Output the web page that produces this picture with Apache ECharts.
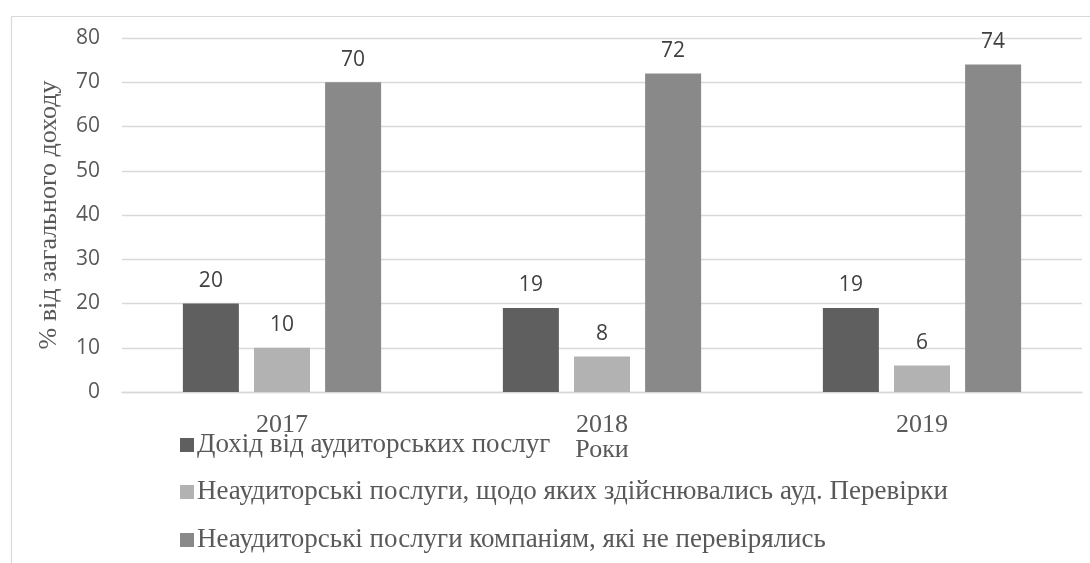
<!DOCTYPE html>
<html>
<head>
<meta charset="utf-8">
<script src="https://cdn.jsdelivr.net/npm/echarts@6/dist/echarts.min.js"></script>
<style>
html,body{margin:0;padding:0;background:#fff;}
#chart{width:1090px;height:563px;}
</style>
</head>
<body>
<div id="chart"></div>
<script>
var categories = ['2017', '2018', '2019'];
var seriesNames = [
  'Дохід від аудиторських послуг',
  'Неаудиторські послуги, щодо яких здійснювались ауд. Перевірки',
  'Неаудиторські послуги компаніям, які не перевірялись'
];
var auditIncome = [20, 19, 19];
var nonAuditAudited = [10, 8, 6];
var nonAuditNotAudited = [70, 72, 74];
var yTicks = [0, 10, 20, 30, 40, 50, 60, 70, 80];
var xAxisTitle = 'Роки';
var yAxisTitle = '% від загального доходу';

var colors = ['#5f5f5f', '#b2b2b2', '#898989'];
var values = [auditIncome, nonAuditAudited, nonAuditNotAudited];
var sans = '"Open Sans", sans-serif';
var serif = '"Liberation Serif", "Times New Roman", serif';
var legendTops = [425, 472, 520];

var chart = echarts.init(document.getElementById('chart'), null, {renderer: 'canvas'});
var option = {
  animation: false,
  backgroundColor: '#ffffff',
  color: colors,
  graphic: [{
    type: 'rect',
    left: 9, top: 14,
    shape: {width: 1100, height: 600},
    style: {fill: 'none', stroke: '#d9d9d9', lineWidth: 1.2},
    silent: true, z: -1
  }],
  grid: {left: 122, right: 8, top: 38, bottom: 171, containLabel: false},
  legend: seriesNames.map(function (n, i) {
    return {
      orient: 'horizontal',
      left: 175,
      top: legendTops[i],
      itemWidth: 14,
      itemHeight: 14,
      icon: 'rect',
      selectedMode: false,
      textStyle: {fontFamily: serif, fontSize: 27, color: '#595959', lineHeight: 30, padding: [0, 0, 0, -2]},
      data: [n]
    };
  }),
  xAxis: {
    type: 'category',
    data: categories,
    name: xAxisTitle,
    nameLocation: 'middle',
    nameGap: 45,
    nameMoveOverlap: false,
    nameTextStyle: {fontFamily: serif, fontSize: 26, color: '#595959'},
    axisLine: {show: true, lineStyle: {color: '#d9d9d9', width: 1.3}},
    axisTick: {show: false},
    axisLabel: {fontFamily: serif, fontSize: 26, color: '#595959', margin: 20}
  },
  yAxis: {
    type: 'value',
    min: yTicks[0],
    max: yTicks[yTicks.length - 1],
    interval: yTicks[1] - yTicks[0],
    name: yAxisTitle,
    nameLocation: 'middle',
    nameRotate: 90,
    nameGap: 60,
    nameMoveOverlap: false,
    nameTextStyle: {fontFamily: serif, fontSize: 26, color: '#595959'},
    axisLine: {show: false},
    axisTick: {show: false},
    splitLine: {lineStyle: {color: '#d9d9d9', width: 1.3}},
    axisLabel: {fontFamily: sans, fontSize: 21, color: '#595959', margin: 22}
  },
  series: seriesNames.map(function (n, i) {
    return {
      name: n,
      type: 'bar',
      data: values[i],
      barWidth: 56,
      barGap: '27%',
      itemStyle: {color: colors[i]},
      label: {
        show: true,
        position: 'top',
        distance: 12,
        fontFamily: sans,
        fontSize: 21,
        color: '#404040'
      }
    };
  })
};
chart.setOption(option);
</script>
</body>
</html>
